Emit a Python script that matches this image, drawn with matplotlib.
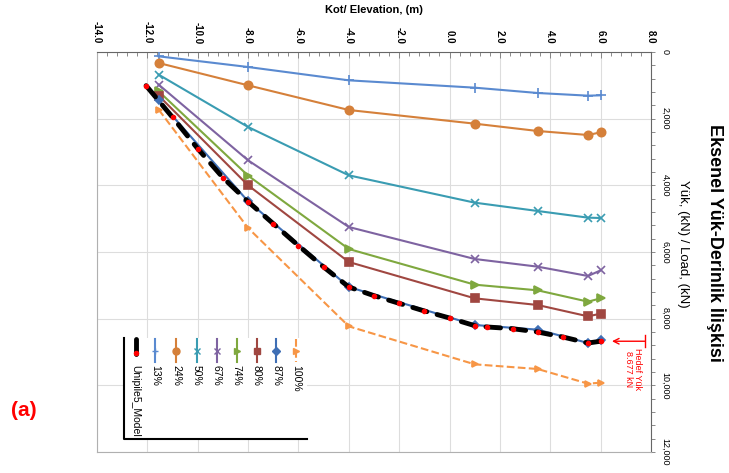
import matplotlib.pyplot as plt
from matplotlib.ticker import MultipleLocator, FuncFormatter
from matplotlib.patches import Rectangle

plt.rcParams['font.family'] = ['Liberation Sans', 'DejaVu Sans']

# elevation of the measurement levels (m)
elev = [-11.55, -8.0, -4.0, 1.0, 3.5, 5.5, 6.0]

# load at each level for the applied load steps (kN)
load_13 = [130, 450, 850, 1070, 1230, 1310, 1300]
load_24 = [330, 1000, 1740, 2150, 2370, 2490, 2410]
load_50 = [680, 2250, 3700, 4520, 4770, 4970, 4980]
load_67 = [980, 3250, 5250, 6210, 6440, 6720, 6550]
load_74 = [1180, 3710, 5910, 6980, 7150, 7490, 7390]
load_80 = [1310, 4000, 6300, 7390, 7590, 7930, 7850]
load_87 = [1450, 4480, 7050, 8190, 8330, 8730, 8650]
load_100 = [1730, 5280, 8230, 9370, 9510, 9950, 9920]

# model curve
model_elev = [-12.05, -11.0, -10.0, -9.0, -8.0, -7.0, -6.0, -5.0, -4.0, -3.0,
              -2.0, -1.0, 0.0, 1.0, 1.5, 2.5, 3.5, 4.5, 5.5, 6.0]
model_load = [1010, 1960, 2900, 3770, 4490, 5150, 5810, 6450, 7050, 7310,
              7540, 7770, 7980, 8210, 8250, 8300, 8400, 8550, 8730, 8677]

target_load = 8677

series = [
    ('13%', load_13, '#5a8ad0', '+', 7, '-'),
    ('24%', load_24, '#d5803a', 'o', 6, '-'),
    ('50%', load_50, '#3a9cb2', 'x', 6, '-'),
    ('67%', load_67, '#7e63a1', 'x', 6, '-'),
    ('74%', load_74, '#7fa83f', '>', 6, '-'),
    ('80%', load_80, '#a04741', 's', 6, '-'),
    ('87%', load_87, '#3f6fb5', 'D', 4, '-'),
    ('100%', load_100, '#f79646', '>', 4, '--'),
]

fig = plt.figure(figsize=(7.29, 4.73), dpi=100)
ax = fig.add_axes([97 / 729, 21 / 473, 554 / 729, 400 / 473])

for name, vals, col, mk, ms, ls in series:
    ax.plot(elev, vals, color=col, marker=mk, markersize=ms, linestyle=ls,
            linewidth=1.5, markeredgewidth=1.2, zorder=3)

ax.plot(model_elev, model_load, color='black', linewidth=3.5,
        linestyle=(0, (3.0, 2.2)), dash_capstyle='round', zorder=4)
ax.plot(model_elev, model_load, linestyle='none', marker='o', markersize=3,
        color='red', zorder=5)

ax.set_xlim(-14, 8)
ax.set_ylim(12000, 0)
ax.xaxis.tick_top()
ax.yaxis.tick_right()
ax.xaxis.set_major_locator(MultipleLocator(2))
ax.xaxis.set_minor_locator(MultipleLocator(0.4))
ax.yaxis.set_major_locator(MultipleLocator(2000))
ax.yaxis.set_minor_locator(MultipleLocator(400))
ax.xaxis.set_major_formatter(FuncFormatter(lambda v, p: '%.1f' % v))
ax.yaxis.set_major_formatter(FuncFormatter(lambda v, p: '{:,.0f}'.format(v)))
ax.tick_params(axis='x', which='both', direction='in', length=3, width=0.6,
               color='#777777', labelsize=7, labelrotation=-90, pad=6)
ax.tick_params(axis='x', which='major', length=4)
ax.tick_params(axis='y', which='both', direction='out', length=3, width=0.6,
               color='#777777', labelsize=6.5, labelrotation=-90, pad=4)
for lab in ax.get_xticklabels():
    lab.set_fontweight('bold')
for lab in ax.get_yticklabels():
    lab.set_verticalalignment('center')
ax.grid(True, which='major', color='#dddddd', linewidth=0.8, zorder=0)
for side in ['top', 'right']:
    ax.spines[side].set_color('#666666')
for side in ['left', 'bottom']:
    ax.spines[side].set_color('#b0b0b0')

# legend drawn rotated, like the rest of the chart
tr = ax.transAxes
ax.add_patch(Rectangle((0.0487, 0.0325), 0.33, 0.2525, transform=tr,
                       facecolor='white', edgecolor='none', zorder=6))
ax.plot([0.0487, 0.0487, 0.379], [0.285, 0.0325, 0.0325], color='black',
        linewidth=1.5, transform=tr, zorder=7)
leg_x = [0.0699, 0.1047, 0.1426, 0.180, 0.216, 0.252, 0.288, 0.324, 0.360]
ax.plot([leg_x[0], leg_x[0]], [0.2825, 0.245], color='black', linewidth=3.5,
        solid_capstyle='round', transform=tr, zorder=7)
ax.plot([leg_x[0]], [0.248], marker='o', markersize=3, color='red',
        transform=tr, zorder=8)
ax.text(leg_x[0], 0.2175, 'Unipile5_Model', rotation=-90, ha='center', va='top',
        fontsize=7.5, transform=tr, zorder=8)
for xx, (name, vals, col, mk, ms, ls) in zip(leg_x[1:], series):
    ax.plot([xx, xx], [0.2825, 0.225], color=col, linestyle=ls, linewidth=1.5,
            transform=tr, zorder=7)
    ax.plot([xx], [0.253], marker=mk, markersize=min(ms, 5), color=col,
            markeredgewidth=1.0, transform=tr, zorder=8)
    ax.text(xx, 0.2175, name, rotation=-90, ha='center', va='top',
            fontsize=7.5, transform=tr, zorder=8)

# target load marker
ax.annotate('', xy=(6.45, target_load), xytext=(7.75, target_load),
            arrowprops=dict(arrowstyle='->', color='red', lw=1.0,
                            shrinkA=0, shrinkB=0), annotation_clip=False)
ax.plot([7.75, 7.75], [8480, 8860], color='red', linewidth=1.0, clip_on=False)
ax.text(7.28, 8880, 'Hedef Yük\n8.677 kN', rotation=-90, ha='center', va='top',
        color='red', fontsize=6.5, linespacing=1.0)

fig.text(374 / 729, 1 - 10 / 473, 'Kot/ Elevation, (m)', ha='center',
         va='center', fontsize=8, fontweight='bold')
fig.text(683 / 729, 1 - 244 / 473, 'Yük, (kN) / Load, (kN)', rotation=-90,
         ha='center', va='center', fontsize=9.5)
fig.text(716 / 729, 1 - 243 / 473, 'Eksenel Yük-Derinlik İlişkisi',
         rotation=-90, ha='center', va='center', fontsize=13, fontweight='bold')
fig.text(24 / 729, 1 - 410 / 473, '(a)', ha='center', va='center',
         fontsize=15, fontweight='bold', color='red')

fig.savefig('out.png', dpi=100)
